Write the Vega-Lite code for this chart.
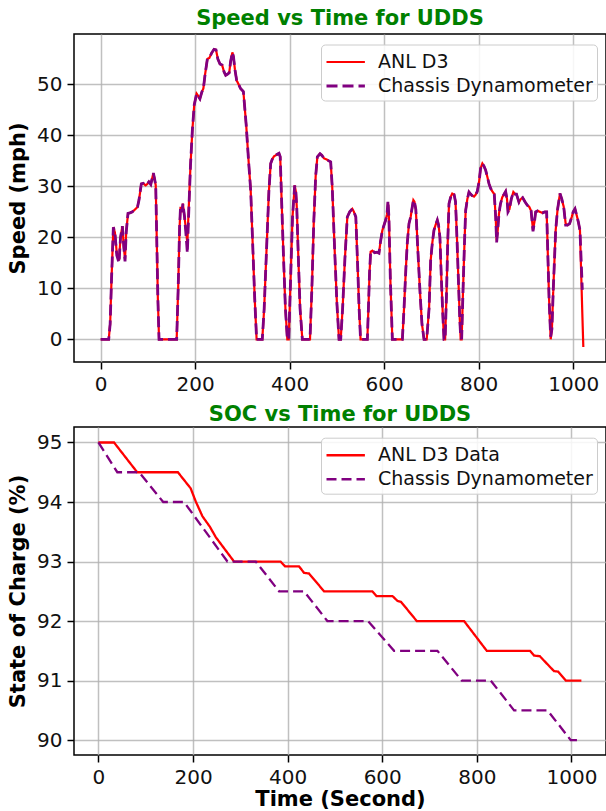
{
  "$schema": "https://vega.github.io/schema/vega-lite/v6.json",
  "background": "white",
  "padding": {"left": 6, "top": 7, "right": 0, "bottom": 0},
  "config": {
    "font": "DejaVu Sans",
    "view": {"stroke": "black", "strokeWidth": 1.5},
    "axis": {"grid": true, "gridColor": "#b0b0b0", "gridWidth": 1.5, "gridOpacity": 0.8, "domain": false, "tickColor": "black", "tickSize": 7, "tickWidth": 1.5, "labelFontSize": 20, "labelColor": "#111", "labelPadding": 5, "titleFontSize": 21, "titleFontWeight": "bold", "titleColor": "black"},
    "title": {"fontSize": 21, "fontWeight": "bold", "color": "#008000", "offset": 5},
    "legend": {"orient": "none", "fillColor": "rgba(255,255,255,0.85)", "strokeColor": "#cccccc", "cornerRadius": 4, "padding": 4, "labelFontSize": 19, "labelColor": "#111", "labelOffset": 26, "labelLimit": 0, "rowPadding": 0, "symbolSize": 576, "symbolStrokeWidth": 2.5}
  },
  "datasets": {
    "speed": [
      {"t":0,"ANL D3":0,"Chassis Dynamometer":0},
      {"t":17,"ANL D3":0,"Chassis Dynamometer":0},
      {"t":20,"ANL D3":3,"Chassis Dynamometer":3},
      {"t":23,"ANL D3":12,"Chassis Dynamometer":12},
      {"t":26.8,"ANL D3":22,"Chassis Dynamometer":22},
      {"t":30,"ANL D3":21,"Chassis Dynamometer":21},
      {"t":34,"ANL D3":17,"Chassis Dynamometer":16.5},
      {"t":38.8,"ANL D3":15.5,"Chassis Dynamometer":15},
      {"t":42,"ANL D3":20,"Chassis Dynamometer":20},
      {"t":45.9,"ANL D3":22.2,"Chassis Dynamometer":22.2},
      {"t":49,"ANL D3":18,"Chassis Dynamometer":18},
      {"t":51.5,"ANL D3":15.8,"Chassis Dynamometer":15.3},
      {"t":54,"ANL D3":21,"Chassis Dynamometer":21},
      {"t":57.8,"ANL D3":24.7,"Chassis Dynamometer":24.7},
      {"t":62,"ANL D3":24.8,"Chassis Dynamometer":24.8},
      {"t":67,"ANL D3":25,"Chassis Dynamometer":25},
      {"t":74,"ANL D3":25.6,"Chassis Dynamometer":25.6},
      {"t":78,"ANL D3":26,"Chassis Dynamometer":26},
      {"t":81,"ANL D3":27.3,"Chassis Dynamometer":27.3},
      {"t":86,"ANL D3":30.5,"Chassis Dynamometer":30.5},
      {"t":90,"ANL D3":30.6,"Chassis Dynamometer":30.6},
      {"t":95,"ANL D3":30.2,"Chassis Dynamometer":30.2},
      {"t":99,"ANL D3":30.5,"Chassis Dynamometer":30.5},
      {"t":102,"ANL D3":30.9,"Chassis Dynamometer":30.9},
      {"t":106,"ANL D3":30.4,"Chassis Dynamometer":30.4},
      {"t":111.5,"ANL D3":32.6,"Chassis Dynamometer":32.6},
      {"t":114,"ANL D3":31.5,"Chassis Dynamometer":31.5},
      {"t":116.5,"ANL D3":30.2,"Chassis Dynamometer":30.2},
      {"t":119,"ANL D3":18,"Chassis Dynamometer":18},
      {"t":121,"ANL D3":8,"Chassis Dynamometer":8},
      {"t":123.5,"ANL D3":0,"Chassis Dynamometer":0},
      {"t":160.8,"ANL D3":0,"Chassis Dynamometer":0},
      {"t":164,"ANL D3":10,"Chassis Dynamometer":10},
      {"t":167,"ANL D3":22,"Chassis Dynamometer":22},
      {"t":169,"ANL D3":26,"Chassis Dynamometer":26},
      {"t":172,"ANL D3":25,"Chassis Dynamometer":25},
      {"t":174,"ANL D3":26.6,"Chassis Dynamometer":26.6},
      {"t":177.5,"ANL D3":24,"Chassis Dynamometer":24},
      {"t":181,"ANL D3":21,"Chassis Dynamometer":20},
      {"t":183.4,"ANL D3":18.8,"Chassis Dynamometer":16.9},
      {"t":186,"ANL D3":25,"Chassis Dynamometer":24},
      {"t":190,"ANL D3":34,"Chassis Dynamometer":34},
      {"t":194,"ANL D3":41,"Chassis Dynamometer":41},
      {"t":198,"ANL D3":46,"Chassis Dynamometer":46},
      {"t":203,"ANL D3":48.2,"Chassis Dynamometer":48.2},
      {"t":206,"ANL D3":47.8,"Chassis Dynamometer":47.8},
      {"t":210,"ANL D3":47.2,"Chassis Dynamometer":47.2},
      {"t":214,"ANL D3":48.5,"Chassis Dynamometer":48.5},
      {"t":217.3,"ANL D3":49.2,"Chassis Dynamometer":49.2},
      {"t":221,"ANL D3":52,"Chassis Dynamometer":52},
      {"t":225.8,"ANL D3":55,"Chassis Dynamometer":55},
      {"t":230,"ANL D3":55.2,"Chassis Dynamometer":55.2},
      {"t":235,"ANL D3":56.2,"Chassis Dynamometer":56.2},
      {"t":239.9,"ANL D3":56.9,"Chassis Dynamometer":56.9},
      {"t":244,"ANL D3":56.8,"Chassis Dynamometer":56.8},
      {"t":248,"ANL D3":55,"Chassis Dynamometer":55},
      {"t":252.5,"ANL D3":54,"Chassis Dynamometer":54},
      {"t":257,"ANL D3":53.8,"Chassis Dynamometer":53.8},
      {"t":261,"ANL D3":52.5,"Chassis Dynamometer":52.5},
      {"t":264.6,"ANL D3":51.8,"Chassis Dynamometer":51.8},
      {"t":268,"ANL D3":52,"Chassis Dynamometer":52},
      {"t":272,"ANL D3":52.3,"Chassis Dynamometer":52.3},
      {"t":275,"ANL D3":54.5,"Chassis Dynamometer":54.5},
      {"t":278.7,"ANL D3":56.3,"Chassis Dynamometer":56.3},
      {"t":281,"ANL D3":55.5,"Chassis Dynamometer":55.5},
      {"t":284,"ANL D3":53,"Chassis Dynamometer":53},
      {"t":287.8,"ANL D3":50.8,"Chassis Dynamometer":50.8},
      {"t":292,"ANL D3":50,"Chassis Dynamometer":50},
      {"t":296,"ANL D3":49.2,"Chassis Dynamometer":49.2},
      {"t":302,"ANL D3":48.6,"Chassis Dynamometer":48.6},
      {"t":308,"ANL D3":42,"Chassis Dynamometer":42},
      {"t":313,"ANL D3":35,"Chassis Dynamometer":35},
      {"t":317.5,"ANL D3":29.2,"Chassis Dynamometer":29.2},
      {"t":322,"ANL D3":18,"Chassis Dynamometer":18},
      {"t":326,"ANL D3":8,"Chassis Dynamometer":8},
      {"t":330,"ANL D3":0,"Chassis Dynamometer":0},
      {"t":342,"ANL D3":0,"Chassis Dynamometer":0},
      {"t":346,"ANL D3":6,"Chassis Dynamometer":6},
      {"t":349,"ANL D3":13,"Chassis Dynamometer":13},
      {"t":352.7,"ANL D3":21.4,"Chassis Dynamometer":21.4},
      {"t":356,"ANL D3":29,"Chassis Dynamometer":29},
      {"t":359.8,"ANL D3":34.5,"Chassis Dynamometer":34.5},
      {"t":363,"ANL D3":35.3,"Chassis Dynamometer":35.3},
      {"t":366.8,"ANL D3":35.9,"Chassis Dynamometer":35.9},
      {"t":372,"ANL D3":36.2,"Chassis Dynamometer":36.2},
      {"t":377.4,"ANL D3":36.5,"Chassis Dynamometer":36.5},
      {"t":380,"ANL D3":35.8,"Chassis Dynamometer":35.8},
      {"t":383,"ANL D3":27,"Chassis Dynamometer":27},
      {"t":387,"ANL D3":16,"Chassis Dynamometer":16},
      {"t":391,"ANL D3":6,"Chassis Dynamometer":6},
      {"t":395,"ANL D3":0,"Chassis Dynamometer":0},
      {"t":398,"ANL D3":0,"Chassis Dynamometer":0},
      {"t":402,"ANL D3":12,"Chassis Dynamometer":12},
      {"t":406,"ANL D3":24,"Chassis Dynamometer":24},
      {"t":410.6,"ANL D3":30.2,"Chassis Dynamometer":30.2},
      {"t":413,"ANL D3":29,"Chassis Dynamometer":29},
      {"t":415,"ANL D3":26,"Chassis Dynamometer":26},
      {"t":418,"ANL D3":17,"Chassis Dynamometer":17},
      {"t":422,"ANL D3":6,"Chassis Dynamometer":6},
      {"t":426.8,"ANL D3":0,"Chassis Dynamometer":0},
      {"t":443,"ANL D3":0,"Chassis Dynamometer":0},
      {"t":447,"ANL D3":10,"Chassis Dynamometer":10},
      {"t":451,"ANL D3":23,"Chassis Dynamometer":23},
      {"t":455,"ANL D3":32,"Chassis Dynamometer":32},
      {"t":458.6,"ANL D3":35.8,"Chassis Dynamometer":35.8},
      {"t":464.2,"ANL D3":36.4,"Chassis Dynamometer":36.4},
      {"t":468,"ANL D3":36.1,"Chassis Dynamometer":36.1},
      {"t":472.6,"ANL D3":35.5,"Chassis Dynamometer":35.5},
      {"t":478,"ANL D3":35.3,"Chassis Dynamometer":35.3},
      {"t":483,"ANL D3":35,"Chassis Dynamometer":35},
      {"t":486.8,"ANL D3":34.8,"Chassis Dynamometer":34.8},
      {"t":490,"ANL D3":30,"Chassis Dynamometer":30},
      {"t":495,"ANL D3":18,"Chassis Dynamometer":18},
      {"t":500,"ANL D3":7,"Chassis Dynamometer":7},
      {"t":504.4,"ANL D3":0,"Chassis Dynamometer":0},
      {"t":508,"ANL D3":0,"Chassis Dynamometer":0},
      {"t":512,"ANL D3":6,"Chassis Dynamometer":6},
      {"t":517,"ANL D3":16,"Chassis Dynamometer":16},
      {"t":522,"ANL D3":24,"Chassis Dynamometer":24},
      {"t":527,"ANL D3":25,"Chassis Dynamometer":25},
      {"t":532.6,"ANL D3":25.6,"Chassis Dynamometer":25.6},
      {"t":536,"ANL D3":25,"Chassis Dynamometer":25},
      {"t":540,"ANL D3":24,"Chassis Dynamometer":24},
      {"t":544,"ANL D3":14,"Chassis Dynamometer":14},
      {"t":547,"ANL D3":6,"Chassis Dynamometer":6},
      {"t":550,"ANL D3":0,"Chassis Dynamometer":0},
      {"t":564.4,"ANL D3":0,"Chassis Dynamometer":0},
      {"t":567,"ANL D3":7,"Chassis Dynamometer":7},
      {"t":569,"ANL D3":13,"Chassis Dynamometer":13},
      {"t":571.4,"ANL D3":17.2,"Chassis Dynamometer":17.2},
      {"t":575,"ANL D3":17.4,"Chassis Dynamometer":17.4},
      {"t":580,"ANL D3":17,"Chassis Dynamometer":17},
      {"t":585,"ANL D3":17.1,"Chassis Dynamometer":17.1},
      {"t":589,"ANL D3":16.9,"Chassis Dynamometer":16.9},
      {"t":592,"ANL D3":19,"Chassis Dynamometer":19},
      {"t":596.2,"ANL D3":21.4,"Chassis Dynamometer":21.4},
      {"t":600,"ANL D3":22.5,"Chassis Dynamometer":22.5},
      {"t":603.2,"ANL D3":23.4,"Chassis Dynamometer":23.4},
      {"t":606,"ANL D3":24.5,"Chassis Dynamometer":24.5},
      {"t":608.1,"ANL D3":26.9,"Chassis Dynamometer":27.2},
      {"t":610,"ANL D3":24,"Chassis Dynamometer":24},
      {"t":613,"ANL D3":12,"Chassis Dynamometer":12},
      {"t":617.3,"ANL D3":0,"Chassis Dynamometer":0},
      {"t":638.5,"ANL D3":0,"Chassis Dynamometer":0},
      {"t":642,"ANL D3":6,"Chassis Dynamometer":6},
      {"t":646,"ANL D3":14,"Chassis Dynamometer":14},
      {"t":649,"ANL D3":19,"Chassis Dynamometer":19},
      {"t":652.5,"ANL D3":22.7,"Chassis Dynamometer":22.7},
      {"t":656,"ANL D3":24,"Chassis Dynamometer":24},
      {"t":661.8,"ANL D3":27.3,"Chassis Dynamometer":27.3},
      {"t":664,"ANL D3":27,"Chassis Dynamometer":27},
      {"t":667,"ANL D3":25.5,"Chassis Dynamometer":25.5},
      {"t":671,"ANL D3":18,"Chassis Dynamometer":18},
      {"t":676,"ANL D3":9,"Chassis Dynamometer":9},
      {"t":680,"ANL D3":3,"Chassis Dynamometer":3},
      {"t":684.3,"ANL D3":0,"Chassis Dynamometer":0},
      {"t":690,"ANL D3":0,"Chassis Dynamometer":0},
      {"t":695,"ANL D3":6,"Chassis Dynamometer":6},
      {"t":698.4,"ANL D3":15.5,"Chassis Dynamometer":15.5},
      {"t":702,"ANL D3":19,"Chassis Dynamometer":19},
      {"t":705.4,"ANL D3":21.4,"Chassis Dynamometer":21.4},
      {"t":709,"ANL D3":22.5,"Chassis Dynamometer":22.5},
      {"t":712.5,"ANL D3":23.4,"Chassis Dynamometer":23.4},
      {"t":715,"ANL D3":22.5,"Chassis Dynamometer":22.5},
      {"t":718,"ANL D3":20,"Chassis Dynamometer":20},
      {"t":721,"ANL D3":12,"Chassis Dynamometer":12},
      {"t":724,"ANL D3":5,"Chassis Dynamometer":5},
      {"t":726.6,"ANL D3":0,"Chassis Dynamometer":0},
      {"t":729,"ANL D3":0,"Chassis Dynamometer":0},
      {"t":732,"ANL D3":9,"Chassis Dynamometer":9},
      {"t":734.5,"ANL D3":19,"Chassis Dynamometer":19},
      {"t":737.2,"ANL D3":26.6,"Chassis Dynamometer":26.6},
      {"t":741,"ANL D3":28,"Chassis Dynamometer":28},
      {"t":744.2,"ANL D3":28.6,"Chassis Dynamometer":28.6},
      {"t":748,"ANL D3":28.4,"Chassis Dynamometer":28.4},
      {"t":751,"ANL D3":27,"Chassis Dynamometer":27},
      {"t":754,"ANL D3":20,"Chassis Dynamometer":20},
      {"t":757,"ANL D3":12,"Chassis Dynamometer":12},
      {"t":760,"ANL D3":4,"Chassis Dynamometer":4},
      {"t":761.9,"ANL D3":0,"Chassis Dynamometer":0.5},
      {"t":764,"ANL D3":0,"Chassis Dynamometer":0},
      {"t":767,"ANL D3":10,"Chassis Dynamometer":10},
      {"t":770,"ANL D3":19,"Chassis Dynamometer":19},
      {"t":772.5,"ANL D3":25.3,"Chassis Dynamometer":25.3},
      {"t":776,"ANL D3":27.5,"Chassis Dynamometer":27.5},
      {"t":779.5,"ANL D3":28.9,"Chassis Dynamometer":28.9},
      {"t":783,"ANL D3":28.5,"Chassis Dynamometer":28.5},
      {"t":786,"ANL D3":28.2,"Chassis Dynamometer":28.2},
      {"t":790,"ANL D3":28,"Chassis Dynamometer":28},
      {"t":793.7,"ANL D3":28.4,"Chassis Dynamometer":28.4},
      {"t":797,"ANL D3":29,"Chassis Dynamometer":29},
      {"t":801,"ANL D3":31,"Chassis Dynamometer":31},
      {"t":804,"ANL D3":33.5,"Chassis Dynamometer":33.5},
      {"t":807.8,"ANL D3":34.5,"Chassis Dynamometer":34.5},
      {"t":811,"ANL D3":34,"Chassis Dynamometer":34},
      {"t":814.8,"ANL D3":33.2,"Chassis Dynamometer":33.2},
      {"t":818,"ANL D3":32,"Chassis Dynamometer":32},
      {"t":822,"ANL D3":30.5,"Chassis Dynamometer":30.5},
      {"t":825.4,"ANL D3":29.6,"Chassis Dynamometer":29.6},
      {"t":829,"ANL D3":29,"Chassis Dynamometer":29},
      {"t":833,"ANL D3":28.5,"Chassis Dynamometer":28.5},
      {"t":836,"ANL D3":24,"Chassis Dynamometer":24},
      {"t":838,"ANL D3":19.4,"Chassis Dynamometer":19},
      {"t":840,"ANL D3":21,"Chassis Dynamometer":21},
      {"t":843,"ANL D3":24.7,"Chassis Dynamometer":24.7},
      {"t":846,"ANL D3":26.5,"Chassis Dynamometer":26.5},
      {"t":850,"ANL D3":27.9,"Chassis Dynamometer":27.9},
      {"t":854,"ANL D3":28.5,"Chassis Dynamometer":28.5},
      {"t":857.1,"ANL D3":29,"Chassis Dynamometer":29},
      {"t":860,"ANL D3":27.5,"Chassis Dynamometer":27.5},
      {"t":862,"ANL D3":25.3,"Chassis Dynamometer":25},
      {"t":865,"ANL D3":25.5,"Chassis Dynamometer":25.5},
      {"t":869,"ANL D3":27.5,"Chassis Dynamometer":27.5},
      {"t":873.4,"ANL D3":28.9,"Chassis Dynamometer":28.9},
      {"t":877,"ANL D3":28.5,"Chassis Dynamometer":28.5},
      {"t":880,"ANL D3":28.5,"Chassis Dynamometer":28.5},
      {"t":885.3,"ANL D3":26.9,"Chassis Dynamometer":26.9},
      {"t":889,"ANL D3":27.5,"Chassis Dynamometer":27.5},
      {"t":893,"ANL D3":27.8,"Chassis Dynamometer":27.8},
      {"t":898,"ANL D3":27,"Chassis Dynamometer":27},
      {"t":903,"ANL D3":26.3,"Chassis Dynamometer":26.3},
      {"t":907,"ANL D3":26,"Chassis Dynamometer":26},
      {"t":911,"ANL D3":25.2,"Chassis Dynamometer":25.2},
      {"t":915,"ANL D3":21.4,"Chassis Dynamometer":21.2},
      {"t":918,"ANL D3":23,"Chassis Dynamometer":23},
      {"t":920.6,"ANL D3":25,"Chassis Dynamometer":25},
      {"t":925,"ANL D3":25.2,"Chassis Dynamometer":25.2},
      {"t":930,"ANL D3":25,"Chassis Dynamometer":25},
      {"t":935,"ANL D3":24.8,"Chassis Dynamometer":24.8},
      {"t":940,"ANL D3":25,"Chassis Dynamometer":25},
      {"t":943.9,"ANL D3":25,"Chassis Dynamometer":25},
      {"t":946,"ANL D3":18,"Chassis Dynamometer":18},
      {"t":949,"ANL D3":8,"Chassis Dynamometer":8},
      {"t":952.4,"ANL D3":0,"Chassis Dynamometer":0.5},
      {"t":955,"ANL D3":2,"Chassis Dynamometer":2},
      {"t":958,"ANL D3":10,"Chassis Dynamometer":10},
      {"t":963,"ANL D3":21.4,"Chassis Dynamometer":21.4},
      {"t":967,"ANL D3":25.5,"Chassis Dynamometer":25.5},
      {"t":972.1,"ANL D3":28.6,"Chassis Dynamometer":28.6},
      {"t":976,"ANL D3":27.5,"Chassis Dynamometer":27.5},
      {"t":980,"ANL D3":26,"Chassis Dynamometer":26},
      {"t":984.1,"ANL D3":22.7,"Chassis Dynamometer":22.4},
      {"t":988,"ANL D3":22.4,"Chassis Dynamometer":22.4},
      {"t":992.5,"ANL D3":22.7,"Chassis Dynamometer":22.7},
      {"t":997,"ANL D3":24,"Chassis Dynamometer":24},
      {"t":1000,"ANL D3":25,"Chassis Dynamometer":25},
      {"t":1003.9,"ANL D3":25.6,"Chassis Dynamometer":25.6},
      {"t":1007,"ANL D3":24.5,"Chassis Dynamometer":24.5},
      {"t":1011,"ANL D3":23,"Chassis Dynamometer":23},
      {"t":1014.4,"ANL D3":21.4,"Chassis Dynamometer":21.4},
      {"t":1019.4,"ANL D3":5,"Chassis Dynamometer":9.7},
      {"t":1021.5,"ANL D3":-1.5,"Chassis Dynamometer":null}
    ],
    "soc": [
      {"t":0,"series":"ANL D3 Data","v":95},
      {"t":33,"series":"ANL D3 Data","v":95},
      {"t":82,"series":"ANL D3 Data","v":94.5},
      {"t":168,"series":"ANL D3 Data","v":94.5},
      {"t":195,"series":"ANL D3 Data","v":94.23},
      {"t":205.7,"series":"ANL D3 Data","v":94.01},
      {"t":219.9,"series":"ANL D3 Data","v":93.76},
      {"t":236,"series":"ANL D3 Data","v":93.58},
      {"t":248,"series":"ANL D3 Data","v":93.41},
      {"t":286.7,"series":"ANL D3 Data","v":93.0},
      {"t":385,"series":"ANL D3 Data","v":93.0},
      {"t":394.5,"series":"ANL D3 Data","v":92.92},
      {"t":424,"series":"ANL D3 Data","v":92.92},
      {"t":434.7,"series":"ANL D3 Data","v":92.81},
      {"t":445,"series":"ANL D3 Data","v":92.8},
      {"t":477,"series":"ANL D3 Data","v":92.5},
      {"t":579,"series":"ANL D3 Data","v":92.5},
      {"t":587.7,"series":"ANL D3 Data","v":92.42},
      {"t":621.6,"series":"ANL D3 Data","v":92.42},
      {"t":632,"series":"ANL D3 Data","v":92.34},
      {"t":640,"series":"ANL D3 Data","v":92.32},
      {"t":673,"series":"ANL D3 Data","v":92.0},
      {"t":773,"series":"ANL D3 Data","v":92.0},
      {"t":821,"series":"ANL D3 Data","v":91.5},
      {"t":912.5,"series":"ANL D3 Data","v":91.5},
      {"t":921,"series":"ANL D3 Data","v":91.42},
      {"t":933,"series":"ANL D3 Data","v":91.41},
      {"t":963,"series":"ANL D3 Data","v":91.16},
      {"t":972,"series":"ANL D3 Data","v":91.15},
      {"t":988,"series":"ANL D3 Data","v":91.0},
      {"t":1021,"series":"ANL D3 Data","v":91.0},
      {"t":0,"series":"Chassis Dynamometer","v":95},
      {"t":40,"series":"Chassis Dynamometer","v":94.5},
      {"t":86,"series":"Chassis Dynamometer","v":94.5},
      {"t":137,"series":"Chassis Dynamometer","v":94.0},
      {"t":181,"series":"Chassis Dynamometer","v":94.0},
      {"t":272.7,"series":"Chassis Dynamometer","v":93.0},
      {"t":332.6,"series":"Chassis Dynamometer","v":93.0},
      {"t":381.8,"series":"Chassis Dynamometer","v":92.5},
      {"t":434.7,"series":"Chassis Dynamometer","v":92.5},
      {"t":484,"series":"Chassis Dynamometer","v":92.0},
      {"t":570,"series":"Chassis Dynamometer","v":92.0},
      {"t":625,"series":"Chassis Dynamometer","v":91.5},
      {"t":716.7,"series":"Chassis Dynamometer","v":91.5},
      {"t":768,"series":"Chassis Dynamometer","v":91.0},
      {"t":829.4,"series":"Chassis Dynamometer","v":91.0},
      {"t":878.7,"series":"Chassis Dynamometer","v":90.5},
      {"t":949.3,"series":"Chassis Dynamometer","v":90.5},
      {"t":998.5,"series":"Chassis Dynamometer","v":90.0},
      {"t":1021,"series":"Chassis Dynamometer","v":90.0}
    ]
  },
  "vconcat": [
    {
      "title": {"text": "Speed vs Time for UDDS", "offset": 5},
      "width": 532,
      "height": 328,
      "data": {"name": "speed"},
      "transform": [{"fold": ["ANL D3", "Chassis Dynamometer"], "as": ["series", "v"]}],
      "mark": {"type": "line", "clip": true},
      "encoding": {
        "x": {"field": "t", "type": "quantitative", "scale": {"domain": [-56.5, 1069.5], "nice": false, "zero": false}, "axis": {"title": null, "values": [0, 200, 400, 600, 800, 1000], "format": "d"}},
        "y": {"field": "v", "type": "quantitative", "scale": {"domain": [-4.45, 59.9], "nice": false, "zero": false}, "axis": {"title": "Speed (mph)", "values": [0, 10, 20, 30, 40, 50], "titlePadding": 8}},
        "color": {"field": "series", "type": "nominal", "scale": {"domain": ["ANL D3", "Chassis Dynamometer"], "range": ["#ff0000", "#800080"]}, "legend": {"title": null, "legendX": 247, "legendY": 10.5, "symbolType": "M-1,0H2.2"}},
        "strokeDash": {"field": "series", "type": "nominal", "scale": {"domain": ["ANL D3", "Chassis Dynamometer"], "range": [[1, 0], [11, 5]]}, "legend": {"title": null, "legendX": 247, "legendY": 10.5, "symbolType": "M-1,0H2.2"}},
        "strokeWidth": {"field": "series", "type": "nominal", "scale": {"domain": ["ANL D3", "Chassis Dynamometer"], "range": [2.2, 2.8]}, "legend": null}
      }
    },
    {
      "title": {"text": "SOC vs Time for UDDS", "offset": 2},
      "width": 532,
      "height": 328,
      "data": {"name": "soc"},
      "mark": {"type": "line", "clip": true, "strokeWidth": 2.3},
      "encoding": {
        "x": {"field": "t", "type": "quantitative", "scale": {"domain": [-51.6, 1073], "nice": false, "zero": false}, "axis": {"title": "Time (Second)", "values": [0, 200, 400, 600, 800, 1000], "format": "d", "titlePadding": 1}},
        "y": {"field": "v", "type": "quantitative", "scale": {"domain": [89.75, 95.26], "nice": false, "zero": false}, "axis": {"title": "State of Charge (%)", "values": [90, 91, 92, 93, 94, 95], "format": "d", "titlePadding": 8}},
        "color": {"field": "series", "type": "nominal", "scale": {"domain": ["ANL D3 Data", "Chassis Dynamometer"], "range": ["#ff0000", "#800080"]}, "legend": {"title": null, "legendX": 247, "legendY": 10.7, "symbolType": "M-1,0H2.2"}},
        "strokeDash": {"field": "series", "type": "nominal", "scale": {"domain": ["ANL D3 Data", "Chassis Dynamometer"], "range": [[1, 0], [10, 5]]}, "legend": {"title": null, "legendX": 247, "legendY": 10.7, "symbolType": "M-1,0H2.2"}}
      }
    }
  ],
  "spacing": 8,
  "resolve": {"scale": {"color": "independent", "strokeDash": "independent", "strokeWidth": "independent"}}
}
